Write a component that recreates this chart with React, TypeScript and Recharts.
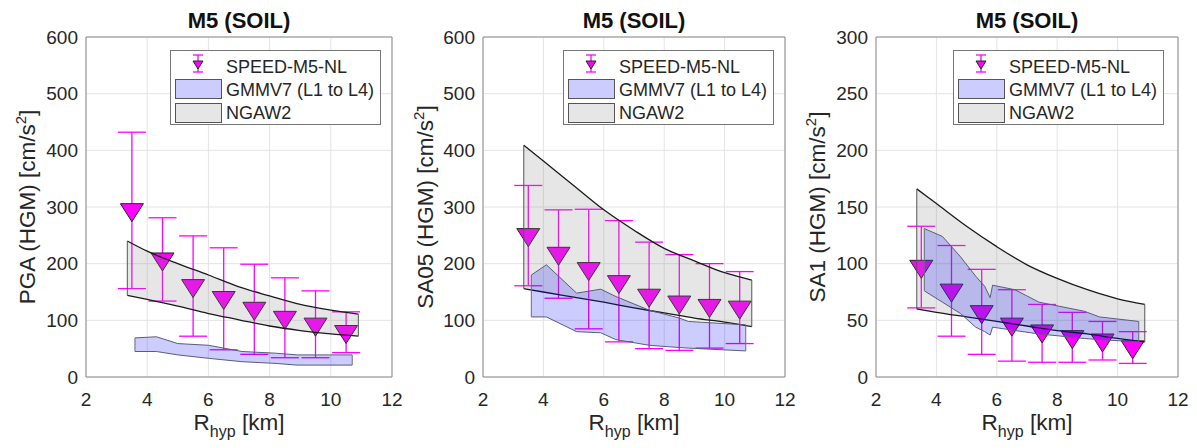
import React from 'react';
import {
  ComposedChart,
  Area,
  Line,
  Scatter,
  ErrorBar,
  XAxis,
  YAxis,
  CartesianGrid,
  ReferenceArea,
  Legend,
} from 'recharts';

const FONT = '"Liberation Sans", Arial, Helvetica, sans-serif';
const TXT = '#262626';

// distance bins (km)
const rhyp = [3.5, 4.5, 5.5, 6.5, 7.5, 8.5, 9.5, 10.5];
const xTicks = [2, 4, 6, 8, 10, 12];

// SPEED-M5-NL: median + error bar ends
const pgaSpeed = [290, 203, 156, 135, 116, 100, 88, 75];
const pgaLow = [156, 134, 72, 48, 40, 34, 34, 43];
const pgaHigh = [432, 281, 249, 228, 199, 175, 152, 115];

const sa05Speed = [246, 213, 186, 163, 139, 127, 121, 118];
const sa05Low = [161, 139, 85, 62, 50, 47, 51, 59];
const sa05High = [338, 295, 296, 276, 238, 216, 200, 186];

const sa1Speed = [95, 74, 55, 44, 38, 33, 30, 24];
const sa1Low = [61, 36, 20, 14, 13, 13, 15, 12];
const sa1High = [133, 116, 95, 77, 64, 57, 49, 40];

// NGAW2 band
const ngaX = [3.35, 4, 5, 6, 7, 8, 9, 10, 10.9];
const pgaNgaLow = [144, 137, 125, 112, 101, 90, 82, 76, 72];
const pgaNgaHigh = [240, 222, 200, 180, 159, 143, 128, 118, 111];
const sa05NgaLow = [156, 150, 141, 132, 122, 113, 104, 97, 89];
const sa05NgaHigh = [409, 381, 338, 295, 259, 227, 205, 184, 171];
const sa1NgaLow = [60, 57, 53, 49, 45, 41, 38, 34, 31];
const sa1NgaHigh = [166, 153, 133, 115, 99, 87, 77, 69, 64];

// GMMV7 (L1 to L4) band
const pgaGmmX = [3.6, 4.3, 5.0, 6.0, 7.1, 8.2, 8.9, 10.7];
const pgaGmmLow = [45, 45, 39, 33, 27, 24, 21, 21];
const pgaGmmHigh = [69, 71, 59, 56, 45, 42, 39, 39];

const sa05GmmX = [3.6, 4.1, 5.1, 5.9, 6.4, 7.5, 8.5, 8.8, 10.7];
const sa05GmmLow = [106, 106, 80, 78, 66, 56, 52, 51, 46];
const sa05GmmHigh = [180, 198, 148, 155, 142, 118, 104, 98, 92];

const sa1GmmX = [3.6, 4.2, 4.8, 5.3, 5.6, 5.78, 5.86, 6.6, 7.4, 8.9, 9.4, 10.7];
const sa1GmmLow = [76, 66, 56, 44, 40, 37, 44, 41, 38, 34, 33, 31];
const sa1GmmHigh = [131, 124, 106, 89, 80, 70, 81, 77, 66, 58, 53, 49];

type Panel = {
  title: string;
  yLabel: string;
  yMax: number;
  yTicks: number[];
  width: number;
  yAxisWidth: number;
  marginRight: number;
  labelX: number;
  legendLeft: number;
  speed: number[];
  low: number[];
  high: number[];
  ngaLow: number[];
  ngaHigh: number[];
  gmmX: number[];
  gmmLow: number[];
  gmmHigh: number[];
};

const panels: Panel[] = [
  {
    title: 'M5 (SOIL)', yLabel: 'PGA (HGM) [cm/s', yMax: 600, yTicks: [0, 100, 200, 300, 400, 500, 600],
    width: 400, yAxisWidth: 86, marginRight: 8, labelX: 35, legendLeft: 170,
    speed: pgaSpeed, low: pgaLow, high: pgaHigh, ngaLow: pgaNgaLow, ngaHigh: pgaNgaHigh,
    gmmX: pgaGmmX, gmmLow: pgaGmmLow, gmmHigh: pgaGmmHigh,
  },
  {
    title: 'M5 (SOIL)', yLabel: 'SA05 (HGM) [cm/s', yMax: 600, yTicks: [0, 100, 200, 300, 400, 500, 600],
    width: 400, yAxisWidth: 83, marginRight: 15, labelX: 33, legendLeft: 163,
    speed: sa05Speed, low: sa05Low, high: sa05High, ngaLow: sa05NgaLow, ngaHigh: sa05NgaHigh,
    gmmX: sa05GmmX, gmmLow: sa05GmmLow, gmmHigh: sa05GmmHigh,
  },
  {
    title: 'M5 (SOIL)', yLabel: 'SA1 (HGM) [cm/s', yMax: 300, yTicks: [0, 50, 100, 150, 200, 250, 300],
    width: 397, yAxisWidth: 76, marginRight: 19, labelX: 25, legendLeft: 153,
    speed: sa1Speed, low: sa1Low, high: sa1High, ngaLow: sa1NgaLow, ngaHigh: sa1NgaHigh,
    gmmX: sa1GmmX, gmmLow: sa1GmmLow, gmmHigh: sa1GmmHigh,
  },
];

const TriangleDown = (props: any) => {
  const { cx, cy } = props;
  if (cx == null || cy == null) return <g />;
  return (
    <polygon
      points={`${cx - 11.5},${cy - 9} ${cx + 11.5},${cy - 9} ${cx},${cy + 9}`}
      fill="#ff00ff"
      stroke="#262626"
      strokeWidth={1}
    />
  );
};

const LegendBox = () => (
  <svg width={211} height={75} style={{ display: 'block' }}>
    <rect x={0.5} y={0.5} width={210} height={74} fill="#fff" stroke="#777" />
    {/* speed marker icon */}
    <line x1={28} y1={5} x2={28} y2={22} stroke="#ff00ff" strokeWidth={1.3} />
    <line x1={23} y1={5} x2={33} y2={5} stroke="#ff00ff" strokeWidth={1.3} />
    <line x1={23} y1={22} x2={33} y2={22} stroke="#ff00ff" strokeWidth={1.3} />
    <polygon points="23,11 33,11 28,19" fill="#ff00ff" stroke="#262626" strokeWidth={1} />
    <rect x={5.5} y={29.5} width={46} height={19} fill="#ccccff" stroke="#555" />
    <rect x={5.5} y={53.5} width={46} height={19} fill="#e6e6e6" stroke="#555" />
    <g fontFamily={FONT} fontSize={18} fill={TXT}>
      <text x={56} y={23}>SPEED-M5-NL</text>
      <text x={56} y={45.5}>GMMV7 (L1 to L4)</text>
      <text x={56} y={68.5}>NGAW2</text>
    </g>
  </svg>
);

const panelText = (p: Panel) => (props: any) => {
  const vb = props.viewBox || {};
  const plotW = p.width - p.yAxisWidth - p.marginRight;
  const x0 = vb.x ?? p.yAxisWidth;
  const y0 = vb.y ?? 37;
  const w = vb.width ?? plotW;
  const h = vb.height ?? 340;
  const cx = x0 + w / 2;
  const cy = y0 + h / 2;
  return (
    <g fontFamily={FONT}>
      <text x={cx} y={y0 - 9} textAnchor="middle" fontSize={22} fontWeight="bold" fill="#111">
        {p.title}
      </text>
      <text
        x={p.labelX}
        y={cy}
        textAnchor="middle"
        fontSize={22.5}
        fill={TXT}
        transform={`rotate(-90 ${p.labelX} ${cy})`}
      >
        {p.yLabel}
        <tspan dy={-9} fontSize={15}>2</tspan>
        <tspan dy={9}>]</tspan>
      </text>
      <text x={cx} y={y0 + h + 53} textAnchor="middle" fontSize={22.5} fill={TXT}>
        R<tspan dy={7} fontSize={16}>hyp</tspan>
        <tspan dy={-7}>{'\u00a0[km]'}</tspan>
      </text>
    </g>
  );
};

// vertical closing edge of a band, from its first or last entry
const bandEdge = (x: number, lo: number, hi: number) => [
  { x, v: lo },
  { x, v: hi },
];

function PanelChart({ p }: { p: Panel }) {
  const pts = rhyp.map((x, i) => ({
    x,
    y: p.speed[i],
    err: [p.speed[i] - p.low[i], p.high[i] - p.speed[i]],
  }));
  const nga = ngaX.map((x, i) => ({ x, band: [p.ngaLow[i], p.ngaHigh[i]] }));
  const gmm = p.gmmX.map((x, i) => ({ x, band: [p.gmmLow[i], p.gmmHigh[i]] }));
  const nLast = ngaX.length - 1;
  const gLast = p.gmmX.length - 1;
  const edges = [
    { d: bandEdge(ngaX[0], p.ngaLow[0], p.ngaHigh[0]), c: '#555' },
    { d: bandEdge(ngaX[nLast], p.ngaLow[nLast], p.ngaHigh[nLast]), c: '#555' },
    { d: bandEdge(p.gmmX[0], p.gmmLow[0], p.gmmHigh[0]), c: '#6a6a88' },
    { d: bandEdge(p.gmmX[gLast], p.gmmLow[gLast], p.gmmHigh[gLast]), c: '#6a6a88' },
  ];
  const tick = { fontSize: 19, fill: TXT, fontFamily: FONT };

  return (
    <ComposedChart
      width={p.width}
      height={448}
      margin={{ top: 37, right: p.marginRight, bottom: 0, left: 0 }}
    >
      <CartesianGrid stroke="#e4e4e4" />
      <XAxis
        dataKey="x"
        type="number"
        domain={[2, 12]}
        ticks={xTicks}
        interval={0}
        allowDataOverflow
        axisLine={false}
        tickLine={false}
        tickMargin={10}
        height={71}
        tick={tick}
      />
      <YAxis
        type="number"
        domain={[0, p.yMax]}
        ticks={p.yTicks}
        interval={0}
        allowDataOverflow
        axisLine={false}
        tickLine={false}
        tickMargin={2}
        width={p.yAxisWidth}
        tick={tick}
      />
      <Scatter data={pts} dataKey="y" shape={TriangleDown} isAnimationActive={false}>
        <ErrorBar dataKey="err" direction="y" width={14} stroke="#ff00ff" strokeWidth={1.3} />
      </Scatter>
      <Area
        data={nga}
        dataKey="band"
        type="monotone"
        stroke="#1a1a1a"
        strokeWidth={1.3}
        fill="#808080"
        fillOpacity={0.2}
        dot={false}
        activeDot={false}
        isAnimationActive={false}
        zIndex={700}
      />
      <Area
        data={gmm}
        dataKey="band"
        type="linear"
        stroke="#5c5c78"
        strokeWidth={1}
        fill="#0000ff"
        fillOpacity={0.2}
        dot={false}
        activeDot={false}
        isAnimationActive={false}
        zIndex={710}
      />
      {edges.map((e, i) => (
        <Line
          key={i}
          data={e.d}
          dataKey="v"
          type="linear"
          stroke={e.c}
          strokeWidth={1}
          dot={false}
          activeDot={false}
          isAnimationActive={false}
          zIndex={720}
        />
      ))}
      <ReferenceArea
        x1={2}
        x2={12}
        y1={0}
        y2={p.yMax}
        fill="none"
        stroke="#8c8c8c"
        strokeWidth={1}
        label={panelText(p)}
      />
      <Legend
        layout="horizontal"
        verticalAlign="middle"
        align="center"
        content={() => <LegendBox />}
        wrapperStyle={{ left: p.legendLeft, top: 50, width: 211, height: 75 }}
      />
    </ComposedChart>
  );
}

export default function App() {
  return (
    <div
      style={{
        position: 'absolute',
        left: 0,
        top: 0,
        width: 1197,
        height: 448,
        display: 'flex',
        background: '#fff',
      }}
    >
      <style>{'.recharts-surface { overflow: visible; }'}</style>
      {panels.map((p, i) => (
        <PanelChart key={i} p={p} />
      ))}
    </div>
  );
}
